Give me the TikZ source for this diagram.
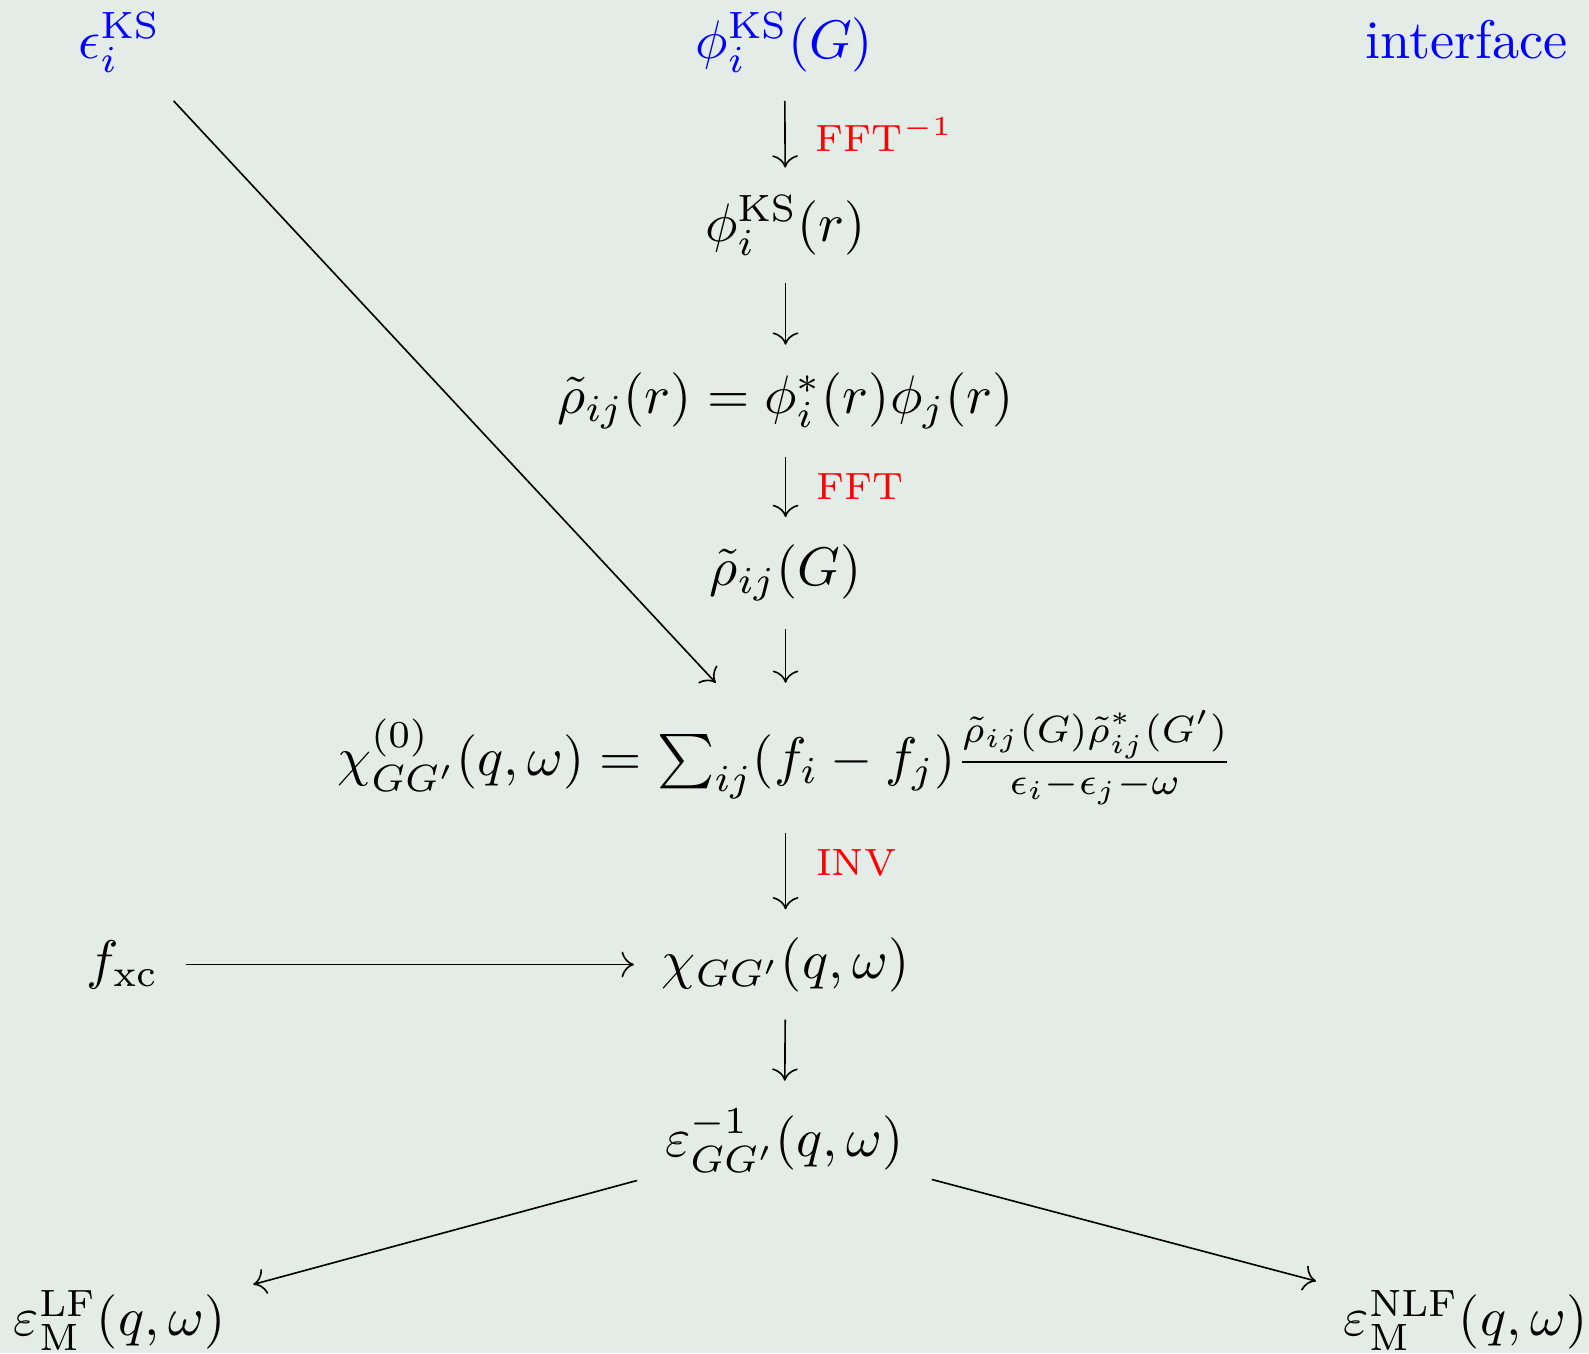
\documentclass[tikz,border=0pt]{standalone}
\usepackage{amsmath}
\usetikzlibrary{arrows.meta,positioning,calc}
\definecolor{bgcol}{RGB}{228,236,232}
\definecolor{ifblue}{RGB}{0,0,255}

\begin{document}
\begin{tikzpicture}[
    line width=0.3pt,
    every node/.style={inner sep=5pt, anchor=base},
    iface/.style={text=ifblue},
    lbl/.style={text=red, font=\scriptsize, inner sep=0pt, anchor=west, xshift=5.5pt}
]
    % Background
    \fill[bgcol] (0,0) rectangle (10.28,8.754);
    \useasboundingbox (0,0) rectangle (10.28,8.754);
    % Interface
    \node[iface] (epsks) at (0.774,8.374) {$\epsilon_i^{\mathrm{KS}}$};
    \node[iface] (phiG) at (5.075,8.374) {$\phi_i^{\mathrm{KS}}(G)$};
    \node[iface] (iface) at (9.489,8.374) {interface};
    % Chain
    \node (phir) at (5.082,7.193) {$\phi_i^{\mathrm{KS}}(r)$};
    \node (rhor) at (5.082,6.079) {$\tilde{\rho}_{ij}(r) = \phi_i^*(r)\phi_j(r)$};
    \node (rhoG) at (5.082,4.964) {$\tilde{\rho}_{ij}(G)$};
    \node (chi0) at (5.082,3.738) {$\chi^{(0)}_{GG'}(q,\omega) = \sum_{ij}(f_i - f_j)\frac{\tilde{\rho}_{ij}(G)\tilde{\rho}^*_{ij}(G')}{\epsilon_i-\epsilon_j-\omega}$};
    \node (chi) at (5.082,2.426) {$\chi_{GG'}(q,\omega)$};
    \node (fxc) at (0.793,2.426) {$f_{\mathrm{xc}}$};
    \node (epsinv) at (5.075,1.272) {$\varepsilon^{-1}_{GG'}(q,\omega)$};
    \node (epsLF) at (0.774,0.111) {$\varepsilon^{\mathrm{LF}}_{\mathrm{M}}(q,\omega)$};
    \node (epsNLF) at (9.482,0.111) {$\varepsilon^{\mathrm{NLF}}_{\mathrm{M}}(q,\omega)$};
    % Arrows
    \draw[->] (phiG) -- node[lbl] (lfftinv) {FFT$^{-1}$} (phir);
    \draw[->] (phir) -- (rhor);
    \draw[->] (rhor) -- node[lbl] (lfft) {FFT} (rhoG);
    \draw[->] (rhoG) -- (chi0);
    \draw[->] (epsks) -- (chi0);
    \draw[->] (chi0) -- node[lbl, pos=0.4] (linv) {INV} (chi);
    \draw[->] (fxc.east) -- (chi.west |- fxc.east);
    \draw[->] (chi) -- (epsinv);
    \draw[->] (epsinv) -- (epsLF);
    \draw[->] (epsinv) -- (epsNLF);
\end{tikzpicture}
\end{document}
